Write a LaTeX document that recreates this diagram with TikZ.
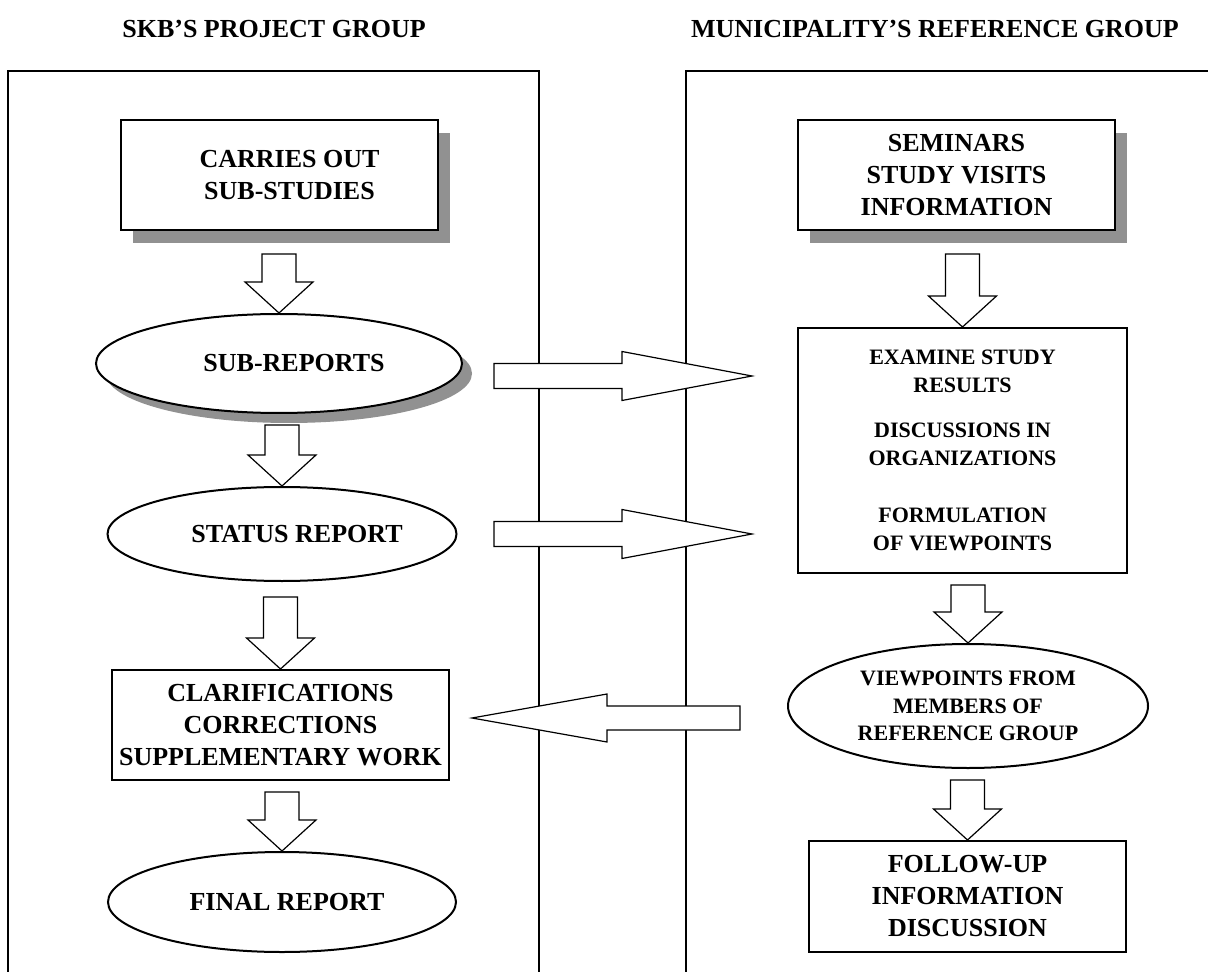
\documentclass[tikz,border=0pt]{standalone}
\usepackage{fontspec}
\setmainfont{Liberation Serif}
\usetikzlibrary{calc,shapes.geometric,shadows}

\tikzset{
	box/.style={draw, line width=1pt, fill=white, align=center, inner sep=2pt, font=\bfseries\fontsize{13}{16}\selectfont},
	oval/.style={box, ellipse, inner sep=0pt},
	small/.style={font=\bfseries\fontsize{11}{13.75}\selectfont},
	boxshade/.style={drop shadow={shadow xshift=6pt, shadow yshift=-6.5pt, fill=black!43, opacity=1}},
	ovalshade/.style={drop shadow={shadow xshift=5pt, shadow yshift=-5pt, fill=black!43, opacity=1}},
	blk/.style={draw, line width=0.6pt, fill=white, line join=miter},
	frame/.style={draw, line width=0.8pt},
	title/.style={font=\bfseries\fontsize{13}{16}\selectfont}
}

\newcommand{\blkdown}[3][11]{%
	\coordinate (tip) at (#3.north);
	\coordinate (tail) at ($(#3.north |- #2.south)+(0,#1)$);
	\draw[blk] ($(tail)+(-17,0)$) -- ($(tip)+(-17,-31)$) -- ($(tip)+(-34,-31)$) -- (tip) -- ($(tip)+(34,-31)$) -- ($(tip)+(17,-31)$) -- ($(tail)+(17,0)$) -- cycle;}
\newcommand{\blkh}[5]{%
	\draw[blk] ($(#1)+(0,-#4)$) -- ($(#2)+(#3,-#4)$) -- ($(#2)+(#3,-#5)$) -- (#2) -- ($(#2)+(#3,#5)$) -- ($(#2)+(#3,#4)$) -- ($(#1)+(0,#4)$) -- cycle;}
\newcommand{\nudge}[1]{\hspace*{#1}}

\begin{document}
\begin{tikzpicture}[x=0.5pt, y=-0.5pt]
	\useasboundingbox (0,0) rectangle (1208,972);
	\clip (0,0) rectangle (1208,972);
	\node[title] (skb) at (274,29) {SKB’S PROJECT GROUP};
	\node[title] (muni) at (935,29) {MUNICIPALITY’S REFERENCE GROUP};
	\draw[frame] (8,990) |- (539,71) -- (539,990);
	\draw[frame] (686,990) |- (1230,71);

	\node[box, boxshade, minimum width=158.5pt, minimum height=55pt] (carry) at (279.5,175) {\nudge{10pt}CARRIES OUT\\\nudge{10pt}SUB-STUDIES};
	\node[oval, ovalshade, minimum width=183pt, minimum height=49.5pt] (subrep) at (279,363.5) {\nudge{15pt}SUB-REPORTS};
	\node[oval, minimum width=174.5pt, minimum height=47pt] (status) at (282,534) {\nudge{15pt}STATUS REPORT};
	\node[box, minimum width=168.5pt, minimum height=55pt] (clarif) at (280.5,725) {CLARIFICATIONS\\CORRECTIONS\\SUPPLEMENTARY WORK};
	\node[oval, minimum width=174pt, minimum height=50pt] (final) at (282,902) {\nudge{5pt}FINAL REPORT};

	\node[box, boxshade, minimum width=158.5pt, minimum height=55pt] (seminar) at (956.5,175) {SEMINARS\\STUDY VISITS\\INFORMATION};
	\node[box, small, minimum width=164.5pt, minimum height=122.5pt] (examine) at (962.5,450.5) {EXAMINE STUDY\\RESULTS\\[9pt]DISCUSSIONS IN\\ORGANIZATIONS\\[15pt]FORMULATION\\OF VIEWPOINTS};
	\node[oval, small, minimum width=180pt, minimum height=62pt] (viewp) at (968,706) {VIEWPOINTS FROM\\MEMBERS OF\\REFERENCE GROUP};
	\node[box, minimum width=158.5pt, minimum height=55.5pt] (follow) at (967.5,896.5) {FOLLOW-UP\\INFORMATION\\DISCUSSION};

	\blkdown[23]{carry}{subrep}
	\blkdown{subrep}{status}
	\blkdown[15]{status}{clarif}
	\blkdown{clarif}{final}
	\blkdown[23]{seminar}{examine}
	\blkdown{examine}{viewp}
	\blkdown{viewp}{follow}

	\coordinate (r1a) at ($(subrep.east)+(31,12.5)$);
	\coordinate (r1b) at ($(examine.west |- r1a)+(-45,0)$);
	\coordinate (r2a) at (r1a |- status.east);
	\coordinate (r2b) at (r1b |- status.east);
	\coordinate (l1a) at ($(viewp.west)+(-47,12)$);
	\coordinate (l1b) at ($(clarif.east |- l1a)+(22,0)$);
	\blkh{r1a}{r1b}{-130}{12.5}{24.5}
	\blkh{r2a}{r2b}{-130}{12.5}{24.5}
	\blkh{l1a}{l1b}{135}{12}{24}
\end{tikzpicture}
\end{document}
